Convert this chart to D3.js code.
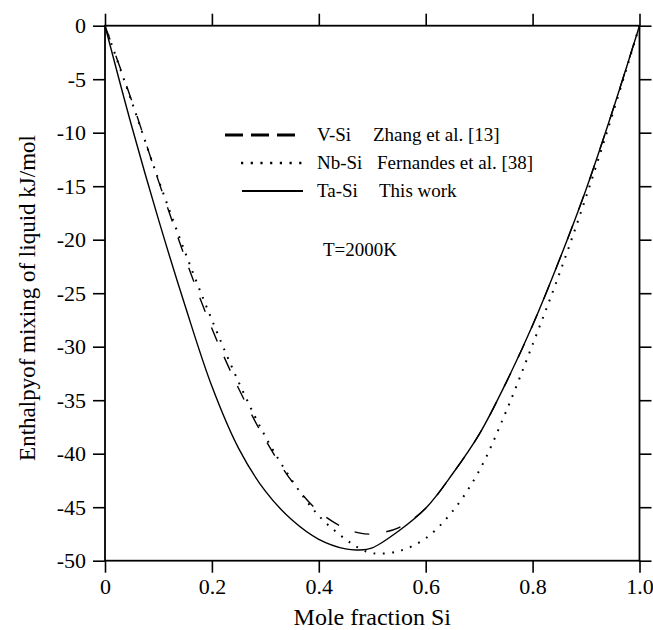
<!DOCTYPE html>
<html>
<head>
<meta charset="utf-8">
<script src="https://cdn.jsdelivr.net/npm/d3@7"></script>
<style>
  body { margin: 0; background: #fff; }
  svg { display: block; }
  text { font-family: "Liberation Serif", "Times New Roman", serif; fill: #000; }
</style>
</head>
<body>
<svg id="chart" width="653" height="630"></svg>
<script>
// mole fraction Si
let xs = [0, 0.05, 0.10, 0.15, 0.20, 0.25, 0.30, 0.35, 0.40, 0.45, 0.475, 0.50,
          0.55, 0.60, 0.65, 0.70, 0.75, 0.80, 0.85, 0.90, 0.95, 1.0];
// V-Si  Zhang et al. [13]
let vSi  = [0, -7.0, -14.5, -21.7, -28.3, -33.9, -38.7, -42.6, -45.4, -47.0, -47.4, -47.5,
            -46.9, -45.1, -41.9, -38.2, -33.4, -28.0, -21.9, -15.3, -7.9, 0];
// Nb-Si  Fernandes et al. [38]
let nbSi = [0, -7.1, -14.4, -21.2, -27.5, -33.3, -38.4, -42.5, -45.8, -48.0, -48.8, -49.3,
            -49.1, -47.9, -45.4, -41.6, -36.1, -29.8, -23.2, -16.0, -8.2, 0];
// Ta-Si  This work
let taSi = [0, -9.4, -18.1, -26.2, -33.7, -39.5, -43.5, -46.2, -48.0, -48.9, -49.0, -48.8,
            -47.2, -45.1, -41.9, -38.2, -33.4, -28.0, -21.9, -15.3, -7.9, 0];

let xTicks = [0, 0.2, 0.4, 0.6, 0.8, 1.0];
let xTickLabels = ['0', '0.2', '0.4', '0.6', '0.8', '1.0'];
let yTicks = [0, -5, -10, -15, -20, -25, -30, -35, -40, -45, -50];

let legendItems = [
  {name: 'V-Si', ref: 'Zhang et al. [13]', vals: vSi, style: 'dash'},
  {name: 'Nb-Si', ref: 'Fernandes et al. [38]', vals: nbSi, style: 'dot'},
  {name: 'Ta-Si', ref: 'This work', vals: taSi, style: 'solid'}
];

let svg = d3.select('#chart');
let margin = {left: 105, right: 13.5, top: 25.7, bottom: 69.3};
let W = +svg.attr('width') - margin.left - margin.right;
let H = +svg.attr('height') - margin.top - margin.bottom;
let g = svg.append('g').attr('transform', 'translate(' + margin.left + ',' + margin.top + ')');

let x = d3.scaleLinear().domain([0, 1]).range([0, W]);
let y = d3.scaleLinear().domain([-50, 0]).range([H, 0]);

function styleLine(sel, style, legend) {
  if (style === 'dash') {
    sel.attr('stroke-width', legend ? 2.8 : 1.4)
      .attr('stroke-dasharray', legend ? '18,8' : '15,17');
  } else if (style === 'dot') {
    sel.attr('stroke-width', legend ? 2.4 : 2)
      .attr('stroke-dasharray', legend ? '2.2,7.5' : '1.8,7.5');
  } else {
    sel.attr('stroke-width', legend ? 2.2 : 1.4);
  }
  return sel;
}

// axes
let tickFont = 22;
let axBottom = g.append('g').attr('transform', 'translate(0,' + H + ')')
  .call(d3.axisBottom(x).tickValues(xTicks).tickFormat((d, i) => xTickLabels[i])
    .tickSize(12).tickSizeOuter(0).tickPadding(6));
let axTop = g.append('g').call(d3.axisTop(x).tickValues(xTicks).tickFormat('').tickSize(12).tickSizeOuter(0));
let axLeft = g.append('g')
  .call(d3.axisLeft(y).tickValues(yTicks).tickFormat(d => String(d)).tickSize(12).tickSizeOuter(0).tickPadding(7));
let axRight = g.append('g').attr('transform', 'translate(' + W + ',0)')
  .call(d3.axisRight(y).tickValues(yTicks).tickFormat('').tickSize(12).tickSizeOuter(0));

[axBottom, axTop, axLeft, axRight].forEach(a => {
  a.select('.domain').remove();
  a.selectAll('line').attr('stroke', '#000').attr('stroke-width', 1.6);
  a.selectAll('text').style('font-size', tickFont + 'px').style('font-family', '"Liberation Serif", serif');
});

g.append('rect').attr('width', W).attr('height', H)
  .attr('fill', 'none').attr('stroke', '#000').attr('stroke-width', 1.8);

// curves
let line = d3.line().curve(d3.curveCatmullRom.alpha(0.5));
legendItems.forEach(it => {
  let p = g.append('path')
    .attr('d', line(xs.map((v, i) => [x(v), y(it.vals[i])])))
    .attr('fill', 'none').attr('stroke', '#000');
  styleLine(p, it.style, false);
});

// legend
let legend = svg.append('g');
let rows = [135, 163, 191];
let lineStart = [225, 241, 242];
legendItems.forEach((it, i) => {
  let l = legend.append('line')
    .attr('x1', lineStart[i]).attr('x2', 303)
    .attr('y1', rows[i]).attr('y2', rows[i]).attr('stroke', '#000');
  styleLine(l, it.style, true);
  legend.append('text').attr('x', 317).attr('y', rows[i] + 6)
    .style('font-size', '19px').text(it.name);
  legend.append('text').attr('x', [373, 377, 379][i]).attr('y', rows[i] + 6)
    .style('font-size', '19px').text(it.ref);
});

svg.append('text').attr('x', 323).attr('y', 256).style('font-size', '19px').text('T=2000K');

// axis titles
svg.append('text').attr('x', margin.left + W / 2).attr('y', 625)
  .attr('text-anchor', 'middle').style('font-size', '24px').text('Mole fraction Si');
svg.append('text')
  .attr('transform', 'translate(35,298) rotate(-90)')
  .attr('text-anchor', 'middle').style('font-size', '23px')
  .text('Enthalpyof mixing of liquid kJ/mol');
</script>
</body>
</html>
